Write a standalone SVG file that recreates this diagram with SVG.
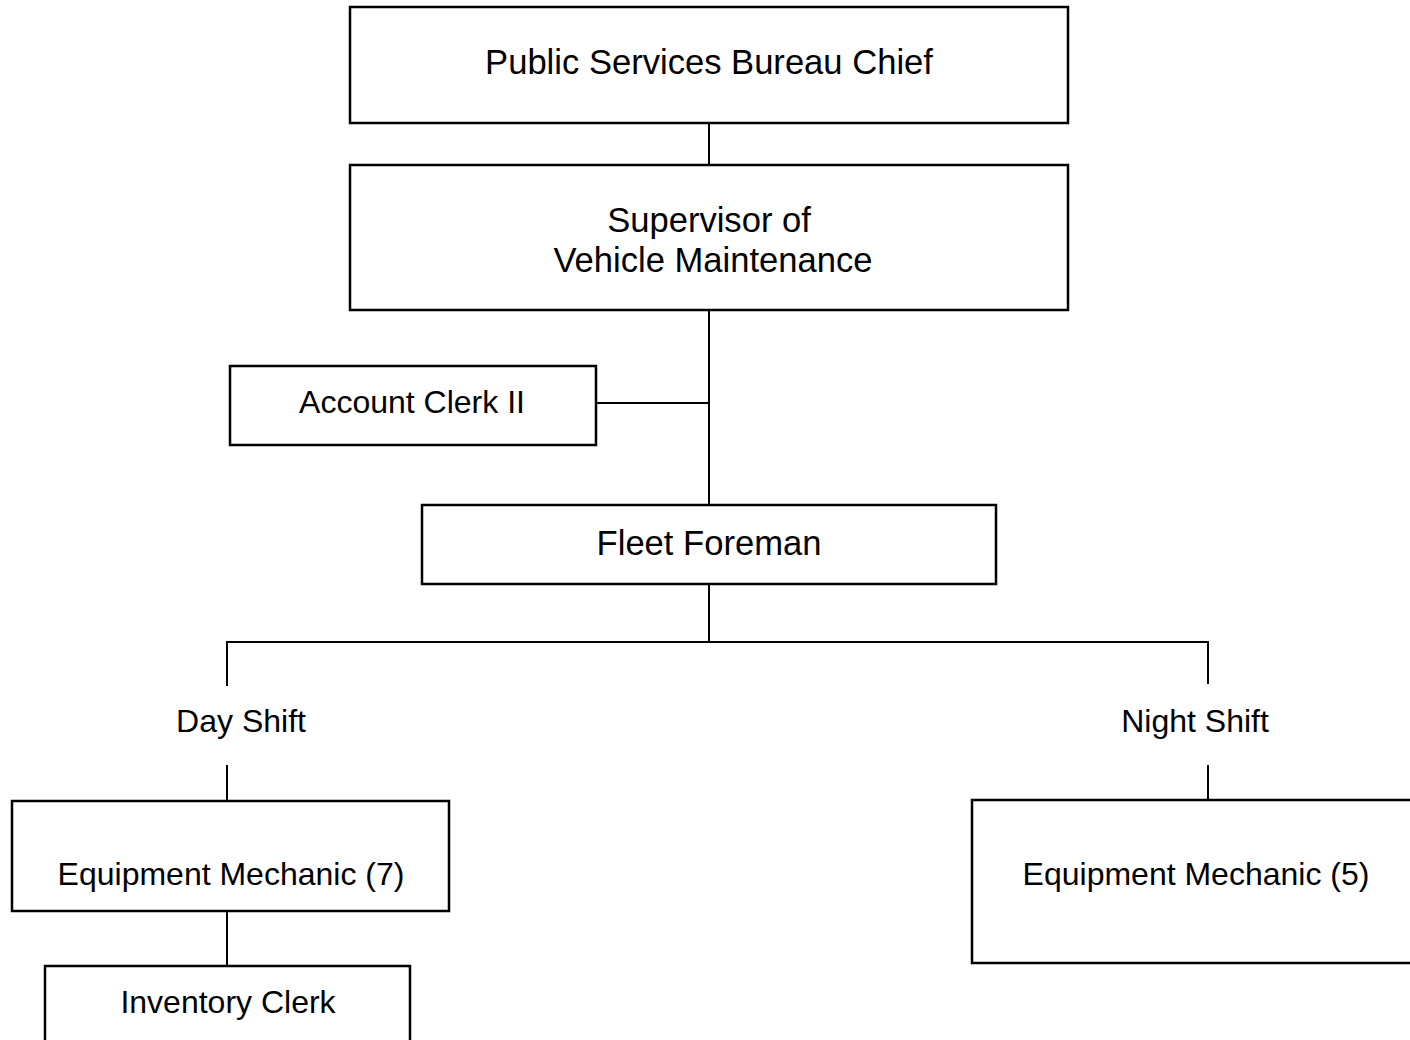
<svg xmlns="http://www.w3.org/2000/svg" width="1410" height="1040" viewBox="0 0 1410 1040">
  <style>
    .box { fill: #ffffff; stroke: #000000; stroke-width: 2.5; }
    .link { fill: none; stroke: #000000; stroke-width: 2; }
    .lg { font-family: "Liberation Sans", Arial, sans-serif; font-size: 34.6px; fill: #000000; text-anchor: middle; }
    .md { font-family: "Liberation Sans", Arial, sans-serif; font-size: 32px; fill: #000000; text-anchor: middle; }
  </style>
  <rect width="1410" height="1040" fill="#ffffff"/>

  <!-- reporting lines -->
  <g id="connectors">
    <line class="link" x1="709" y1="123" x2="709" y2="165"/>
    <line class="link" x1="709" y1="310" x2="709" y2="505"/>
    <line class="link" x1="596" y1="403" x2="709" y2="403"/>
    <line class="link" x1="709" y1="584" x2="709" y2="642"/>
    <polyline class="link" points="227,686 227,642 1208,642 1208,684"/>
    <line class="link" x1="227" y1="765" x2="227" y2="801"/>
    <line class="link" x1="1208" y1="765" x2="1208" y2="800"/>
    <line class="link" x1="227" y1="911" x2="227" y2="966"/>
  </g>

  <g id="bureau-chief">
    <rect class="box" x="350" y="7" width="718" height="116"/>
    <text class="lg" x="709" y="74">Public Services Bureau Chief</text>
  </g>

  <g id="supervisor">
    <rect class="box" x="350" y="165" width="718" height="145"/>
    <text class="lg" x="709" y="232">Supervisor of</text>
    <text class="lg" x="713" y="272">Vehicle Maintenance</text>
  </g>

  <g id="account-clerk">
    <rect class="box" x="230" y="366" width="366" height="79"/>
    <text class="md" x="412" y="413">Account Clerk II</text>
  </g>

  <g id="fleet-foreman">
    <rect class="box" x="422" y="505" width="574" height="79"/>
    <text class="lg" x="709" y="555">Fleet Foreman</text>
  </g>

  <g id="day-shift">
    <text class="md" x="241" y="732">Day Shift</text>
  </g>

  <g id="night-shift">
    <text class="md" x="1195" y="732">Night Shift</text>
  </g>

  <g id="mechanic-day">
    <rect class="box" x="12" y="801" width="437" height="110"/>
    <text class="md" x="231" y="885">Equipment Mechanic (7)</text>
  </g>

  <g id="mechanic-night">
    <rect class="box" x="972" y="800" width="460" height="163"/>
    <text class="md" x="1196" y="885">Equipment Mechanic (5)</text>
  </g>

  <g id="inventory-clerk">
    <rect class="box" x="45" y="966" width="365" height="100"/>
    <text class="md" x="228" y="1013">Inventory Clerk</text>
  </g>
</svg>
